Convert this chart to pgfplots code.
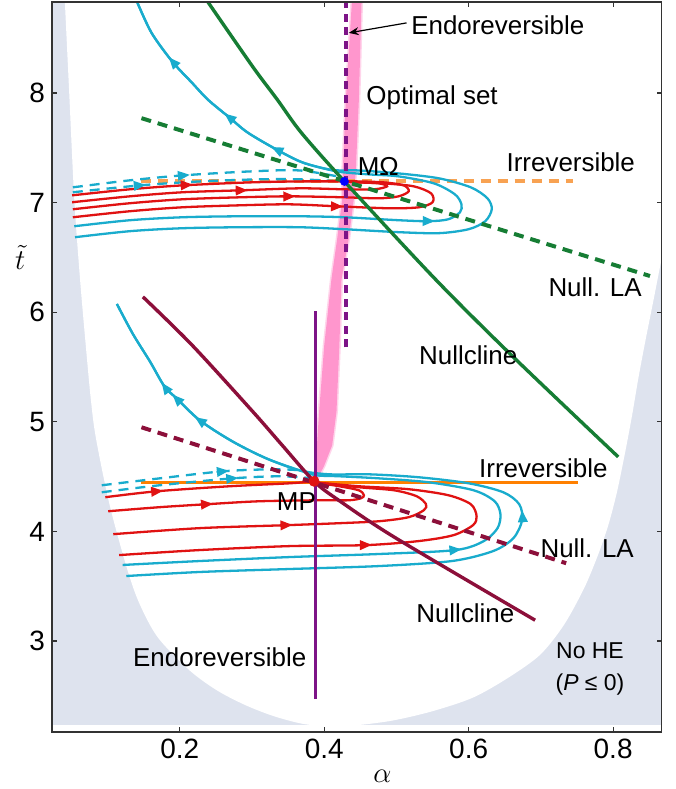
\documentclass[border=0pt]{standalone}
\usepackage{fontspec}
\setmainfont{Liberation Sans}
\usepackage{pgfplots}
\pgfplotsset{compat=1.18}
\usetikzlibrary{arrows.meta}

\definecolor{flowcyan}{RGB}{25,172,205}
\definecolor{flowred}{RGB}{224,18,18}
\definecolor{nullgreen}{RGB}{22,125,52}
\definecolor{nullmaroon}{RGB}{140,15,58}
\definecolor{endopurple}{RGB}{125,20,135}
\definecolor{irrorange}{RGB}{255,128,0}
\definecolor{irrorangelight}{RGB}{248,162,82}
\definecolor{optpink}{RGB}{255,150,205}
\definecolor{nohegrey}{RGB}{222,227,238}

\tikzset{
  traj/.style={line width=1.15pt, smooth},
  dashtraj/.style={line width=1.15pt, smooth, dash pattern=on 5pt off 3.5pt},
  head/.style={line width=1pt, -{Triangle[length=6pt,width=4.8pt]}},
  lab/.style={font=\fontsize{13}{15}\selectfont, inner sep=0pt, anchor=west},
}

\begin{document}
\begin{tikzpicture}
\begin{axis}[
  scale only axis, width=305.5pt, height=366pt,
  xmin=0.023, xmax=0.867, ymin=2.167, ymax=8.83,
  xtick={0.2,0.4,0.6,0.8}, ytick={3,4,5,6,7,8},
  tick align=inside, tick pos=both, major tick length=2.5pt,
  axis on top,
  axis line style={line width=0.9pt, draw=black!80},
  tick style={line width=0.6pt, draw=black!80},
  ticklabel style={font=\fontsize{14}{16}\selectfont},
  /pgf/number format/assume math mode=true,
  xlabel={$\alpha$}, ylabel={$\tilde{t}$},
  xlabel style={at={(axis description cs:0.542,-0.06)}, anchor=center, font=\fontsize{15}{17}\selectfont},
  ylabel style={at={(axis description cs:-0.052,0.65)}, rotate=-90, anchor=center, font=\fontsize{15}{17}\selectfont},
]

% region without a heat engine (P <= 0): grey background, white admissible region on top
\addplot[fill=nohegrey, draw=none] coordinates {(0.023,2.23)(0.867,2.23)(0.867,8.83)(0.023,8.83)};
\addplot[fill=white, draw=none, smooth, tension=0.5] coordinates {
  (0.038,9.3)(0.041,8.83)(0.047,8.00)(0.054,7.03)(0.062,6.30)(0.070,5.69)(0.077,5.20)
  (0.084,4.85)(0.103,4.24)(0.128,3.64)(0.145,3.33)(0.170,3.03)(0.214,2.73)(0.252,2.548)
  (0.291,2.415)(0.330,2.315)(0.370,2.245)(0.407,2.222)(0.445,2.232)(0.495,2.275)(0.550,2.36)
  (0.606,2.484)(0.655,2.666)(0.699,2.875)(0.732,3.148)(0.760,3.484)(0.779,3.784)(0.793,4.05)
  (0.805,4.35)(0.816,4.70)(0.826,5.05)(0.835,5.40)(0.845,5.75)(0.855,6.08)(0.863,6.35)
  (0.872,6.65)(0.89,7.3)(0.93,9.3)};

% optimal set
\addplot[fill=optpink, draw=optpink, draw opacity=0.4, line width=1.5pt] coordinates {
  (0.386,4.457)(0.389,4.60)(0.390,4.785)(0.393,5.094)(0.400,5.694)(0.410,6.30)(0.418,6.67)
  (0.425,7.03)(0.426,7.33)(0.430,7.94)(0.439,8.90)(0.452,8.90)(0.448,7.94)(0.444,7.33)
  (0.441,7.03)(0.434,6.67)(0.424,6.30)(0.421,5.694)(0.417,5.094)(0.411,4.785)(0.400,4.60)(0.389,4.457)};

% irreversible lines
\addplot[irrorangelight, line width=2pt, dash pattern=on 5pt off 3.5pt] coordinates {(0.147,7.193)(0.745,7.193)};
\addplot[irrorange, line width=1.7pt] coordinates {(0.147,4.448)(0.752,4.448)};

% ---- trajectories near M Omega ----
\addplot[flowcyan, dashtraj] coordinates {
  (0.052,7.139)(0.131,7.203)(0.204,7.248)(0.297,7.284)(0.366,7.293)(0.425,7.230)};
\addplot[flowcyan, dashtraj] coordinates {
  (0.052,7.094)(0.145,7.157)(0.228,7.193)(0.310,7.212)(0.366,7.212)(0.425,7.193)};
\addplot[flowred, traj] coordinates {
  (0.051,7.066)(0.131,7.121)(0.204,7.157)(0.297,7.184)(0.366,7.193)(0.428,7.193)};
\addplot[flowred, traj] coordinates {
  (0.051,7.003)(0.131,7.057)(0.204,7.094)(0.286,7.112)(0.366,7.130)(0.428,7.121)(0.469,7.121)
  (0.487,7.148)(0.476,7.175)(0.448,7.184)(0.428,7.193)};
\addplot[flowred, traj] coordinates {
  (0.052,6.939)(0.131,6.994)(0.204,7.030)(0.283,7.048)(0.352,7.057)(0.428,7.048)(0.476,7.039)
  (0.503,7.057)(0.517,7.103)(0.510,7.157)(0.483,7.184)(0.448,7.193)(0.428,7.193)};
\addplot[flowred, traj] coordinates {
  (0.052,6.866)(0.131,6.921)(0.204,6.957)(0.283,6.975)(0.352,6.984)(0.418,6.966)(0.490,6.948)
  (0.531,6.957)(0.550,7.003)(0.548,7.084)(0.524,7.148)(0.483,7.175)(0.448,7.184)(0.428,7.193)};
\addplot[flowcyan, traj] coordinates {
  (0.054,6.784)(0.131,6.839)(0.204,6.866)(0.283,6.875)(0.366,6.875)(0.428,6.866)(0.503,6.839)
  (0.545,6.830)(0.572,6.848)(0.588,6.912)(0.590,6.984)(0.581,7.075)(0.552,7.175)(0.503,7.239)
  (0.462,7.257)(0.428,7.275)(0.411,7.293)(0.370,7.366)(0.334,7.484)(0.294,7.639)(0.269,7.775)
  (0.239,7.939)(0.217,8.093)(0.190,8.284)(0.161,8.548)(0.141,8.830)};
\addplot[flowcyan, traj] coordinates {
  (0.055,6.684)(0.131,6.739)(0.204,6.766)(0.283,6.775)(0.366,6.775)(0.428,6.757)(0.503,6.730)
  (0.559,6.721)(0.600,6.757)(0.623,6.830)(0.632,6.939)(0.626,7.039)(0.603,7.139)(0.559,7.221)
  (0.503,7.266)(0.448,7.293)(0.411,7.298)(0.370,7.366)(0.334,7.484)(0.294,7.639)(0.269,7.775)
  (0.239,7.939)(0.217,8.093)(0.190,8.284)(0.161,8.548)(0.141,8.830)};
% direction heads
\addplot[flowcyan, head] coordinates {(0.197,7.243)(0.214,7.253)};
\addplot[flowcyan, head] coordinates {(0.137,7.152)(0.153,7.162)};
\addplot[flowred, head] coordinates {(0.201,7.157)(0.218,7.164)};
\addplot[flowred, head] coordinates {(0.277,7.110)(0.294,7.113)};
\addplot[flowred, head] coordinates {(0.343,7.055)(0.360,7.057)};
\addplot[flowred, head] coordinates {(0.410,6.966)(0.426,6.964)};
\addplot[flowcyan, head] coordinates {(0.537,6.832)(0.553,6.831)};
\addplot[flowcyan, head] coordinates {(0.341,7.462)(0.327,7.507)};
\addplot[flowcyan, head] coordinates {(0.276,7.739)(0.262,7.812)};
\addplot[flowcyan, head] coordinates {(0.196,8.243)(0.185,8.325)};

% ---- trajectories near MP ----
\addplot[flowcyan, dashtraj] coordinates {
  (0.092,4.421)(0.172,4.484)(0.259,4.548)(0.324,4.566)(0.366,4.557)(0.389,4.512)};
\addplot[flowcyan, dashtraj] coordinates {
  (0.092,4.357)(0.172,4.421)(0.273,4.484)(0.338,4.503)(0.386,4.484)};
\addplot[flowred, traj] coordinates {
  (0.097,4.312)(0.168,4.366)(0.269,4.412)(0.352,4.439)(0.386,4.457)};
\addplot[flowred, traj] coordinates {
  (0.101,4.184)(0.172,4.221)(0.237,4.248)(0.310,4.275)(0.393,4.284)(0.434,4.284)(0.451,4.303)
  (0.455,4.330)(0.448,4.375)(0.421,4.412)(0.386,4.448)};
\addplot[flowred, traj] coordinates {
  (0.108,3.975)(0.228,4.030)(0.348,4.057)(0.421,4.075)(0.476,4.093)(0.517,4.130)(0.538,4.194)
  (0.541,4.248)(0.528,4.321)(0.497,4.375)(0.448,4.403)(0.386,4.448)};
\addplot[flowred, traj] coordinates {
  (0.116,3.784)(0.228,3.830)(0.352,3.866)(0.458,3.875)(0.531,3.912)(0.579,3.966)(0.606,4.057)
  (0.611,4.139)(0.603,4.248)(0.572,4.330)(0.517,4.385)(0.448,4.412)(0.386,4.448)};
\addplot[flowcyan, traj] coordinates {
  (0.121,3.694)(0.228,3.730)(0.352,3.766)(0.476,3.794)(0.582,3.830)(0.621,3.912)(0.640,4.030)
  (0.644,4.157)(0.636,4.275)(0.607,4.375)(0.545,4.448)(0.476,4.484)(0.421,4.503)(0.389,4.512)
  (0.366,4.557)(0.320,4.666)(0.273,4.821)(0.228,5.012)(0.196,5.212)(0.179,5.321)(0.159,5.548)
  (0.135,5.803)(0.113,6.075)};
\addplot[flowcyan, traj] coordinates {
  (0.126,3.593)(0.228,3.630)(0.352,3.657)(0.476,3.684)(0.577,3.730)(0.634,3.821)(0.662,3.939)
  (0.674,4.103)(0.670,4.248)(0.648,4.357)(0.600,4.439)(0.531,4.494)(0.462,4.521)(0.407,4.521)
  (0.366,4.557)(0.320,4.666)(0.273,4.821)(0.228,5.012)(0.196,5.212)(0.179,5.321)(0.159,5.548)
  (0.135,5.803)(0.113,6.075)};
% direction heads
\addplot[flowcyan, head] coordinates {(0.251,4.542)(0.268,4.553)};
\addplot[flowcyan, head] coordinates {(0.265,4.479)(0.281,4.488)};
\addplot[flowred, head] coordinates {(0.160,4.361)(0.177,4.371)};
\addplot[flowred, head] coordinates {(0.229,4.244)(0.246,4.252)};
\addplot[flowred, head] coordinates {(0.339,4.055)(0.356,4.059)};
\addplot[flowred, head] coordinates {(0.450,3.875)(0.466,3.877)};
\addplot[flowcyan, head] coordinates {(0.574,3.827)(0.590,3.837)};
\addplot[flowcyan, head] coordinates {(0.675,4.085)(0.674,4.194)};
\addplot[flowcyan, head] coordinates {(0.234,4.984)(0.221,5.043)};
\addplot[flowcyan, head] coordinates {(0.201,5.175)(0.190,5.248)};
\addplot[flowcyan, head] coordinates {(0.183,5.284)(0.175,5.357)};

% nullclines
\addplot[nullgreen, line width=2pt, dash pattern=on 5pt off 3.5pt] coordinates {(0.147,7.77)(0.851,6.33)};
\addplot[nullmaroon, line width=2pt, dash pattern=on 5pt off 3.5pt] coordinates {(0.147,4.95)(0.735,3.71)};
\addplot[nullgreen, line width=1.7pt, smooth] coordinates {
  (0.239,8.83)(0.301,8.24)(0.335,7.94)(0.368,7.64)(0.428,7.193)(0.554,6.30)(0.662,5.59)(0.807,4.68)};
\addplot[nullmaroon, line width=1.7pt, smooth] coordinates {
  (0.149,6.14)(0.217,5.70)(0.301,5.094)(0.342,4.785)(0.386,4.457)(0.421,4.28)(0.499,3.94)(0.692,3.19)};

% endoreversible lines
\addplot[endopurple, line width=1.7pt, dash pattern=on 4pt off 2.8pt] coordinates {(0.430,5.68)(0.430,8.83)};
\addplot[endopurple, line width=1.5pt] coordinates {(0.388,2.47)(0.388,6.01)};

% maximum points
\addplot[only marks, mark=*, mark size=2pt, blue, mark options={draw=blue}] coordinates {(0.428,7.193)};
\addplot[only marks, mark=*, mark size=2.5pt, flowred, mark options={draw=flowred}] coordinates {(0.386,4.457)};

% pointer to the upper endoreversible line
\addplot[black, line width=0.6pt, -{Stealth[length=5pt,width=4pt]}] coordinates {(0.514,8.639)(0.434,8.548)};

% annotations
\node[lab] at (axis cs:0.520,8.621) {Endoreversible};
\node[lab] at (axis cs:0.458,7.957) {Optimal set};
\node[lab] at (axis cs:0.446,7.33) {MΩ};
\node[lab] at (axis cs:0.652,7.366) {Irreversible};
\node[lab] at (axis cs:0.710,6.23) {Null. LA};
\node[lab] at (axis cs:0.531,5.603) {Nullcline};
\node[lab] at (axis cs:0.614,4.575) {Irreversible};
\node[lab] at (axis cs:0.334,4.275) {MP};
\node[lab] at (axis cs:0.699,3.848) {Null. LA};
\node[lab] at (axis cs:0.527,3.257) {Nullcline};
\node[lab] at (axis cs:0.135,2.848) {Endoreversible};
\node[font=\fontsize{11.5}{13.5}\selectfont, inner sep=0pt, align=center] at (axis cs:0.768,2.745) {No HE\\[3pt](\textit{P} ≤ 0)};
\end{axis}
\path ([shift={(-26pt,-27.5pt)}]current axis.south west) rectangle ([shift={(7pt,1pt)}]current axis.north east);
\end{tikzpicture}
\end{document}
